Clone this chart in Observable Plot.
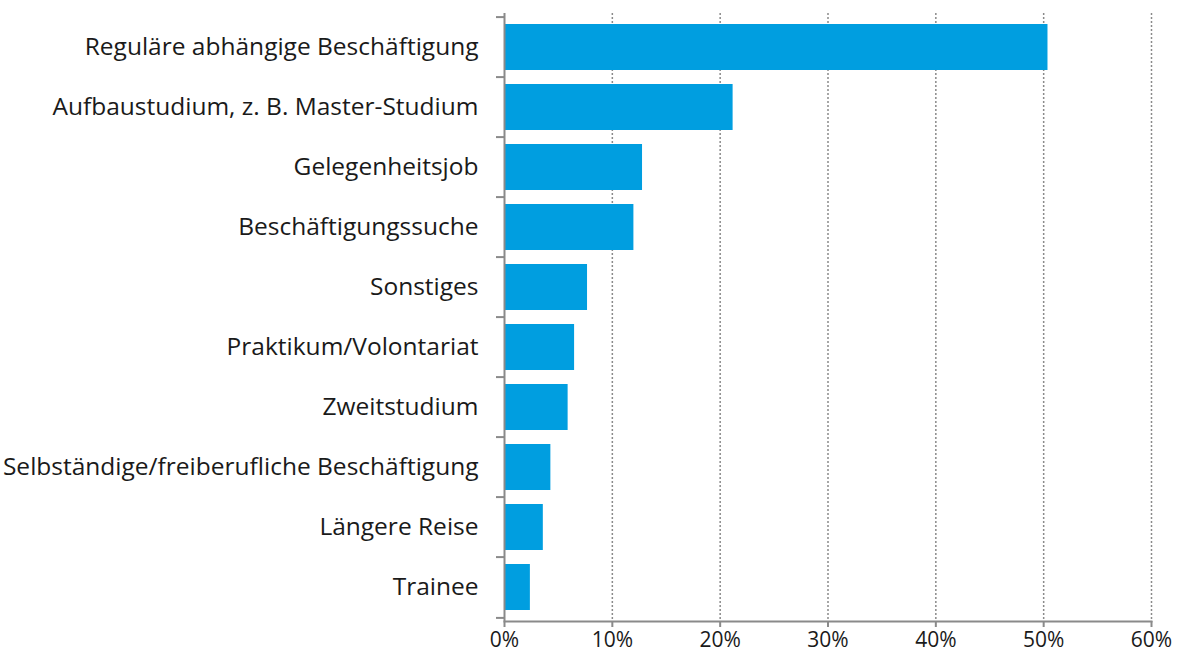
<!DOCTYPE html>
<html>
<head>
<meta charset="utf-8">
<script src="https://cdn.jsdelivr.net/npm/d3@7"></script>
<script src="https://cdn.jsdelivr.net/npm/@observablehq/plot@0.6"></script>
<style>
  html, body { margin: 0; padding: 0; background: #fff; }
</style>
</head>
<body>
<div id="chart"></div>
<script>
const categories = [
  "Reguläre abhängige Beschäftigung",
  "Aufbaustudium, z. B. Master-Studium",
  "Gelegenheitsjob",
  "Beschäftigungssuche",
  "Sonstiges",
  "Praktikum/Volontariat",
  "Zweitstudium",
  "Selbständige/freiberufliche Beschäftigung",
  "Längere Reise",
  "Trainee"
];
const values = [50.4, 21.2, 12.8, 12.0, 7.7, 6.5, 5.9, 4.3, 3.6, 2.4];
const xTicks = [0, 10, 20, 30, 40, 50, 60];

const data = categories.map((c, i) => ({category: c, value: values[i]}));

const W = 1178, H = 654;
const mTop = 13, mBottom = 33, mLeft = 504, mRight = 27;
const step = (H - mTop - mBottom) / categories.length;
const gray = "#8a8a8a";

const chart = Plot.plot({
  width: W,
  height: H,
  marginTop: mTop,
  marginBottom: mBottom,
  marginLeft: mLeft,
  marginRight: mRight,
  style: {fontFamily: "'Open Sans', 'Noto Sans', sans-serif", color: "#1a1a1a", background: "#fff"},
  x: {domain: [0, 60], ticks: xTicks, tickFormat: d => d + "%", label: null},
  y: {domain: categories, paddingInner: 0.23, paddingOuter: 0.115, label: null},
  marks: [
    Plot.ruleX(xTicks.slice(1), {stroke: gray, strokeWidth: 1.5, strokeDasharray: "2,2"}),
    Plot.barX(data, {x: "value", y: "category", fill: "#009EE0", insetLeft: 1}),
    Plot.ruleX([0], {stroke: gray, strokeWidth: 2}),
    Plot.axisY({tickSize: 0, tickPadding: 26, fontSize: 24.5, fill: "#1a1a1a", label: null}),
    Plot.axisY({tickSize: 8, text: null, dy: -step / 2, stroke: gray, strokeWidth: 2, label: null}),
    Plot.axisY(categories.slice(-1), {tickSize: 8, text: null, dy: step / 2, stroke: gray, strokeWidth: 2, label: null}),
    Plot.axisX({ticks: xTicks, tickFormat: d => d + "%", tickSize: 6, tickPadding: 5, fontSize: 21, fill: "#1a1a1a", stroke: gray, strokeWidth: 2, label: null}),
    Plot.frame({anchor: "bottom", stroke: gray, strokeWidth: 2})
  ]
});
document.getElementById("chart").appendChild(chart);
</script>
</body>
</html>
